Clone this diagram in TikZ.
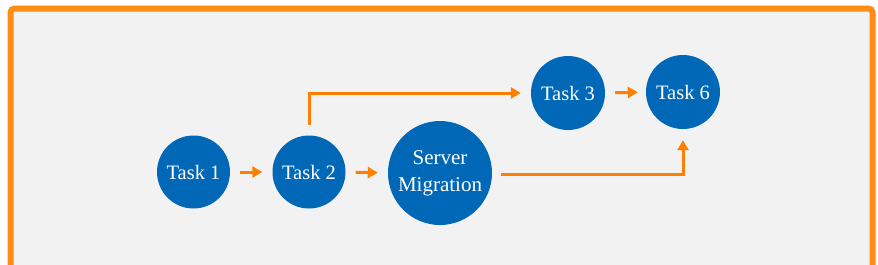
\documentclass[tikz,border=0pt]{standalone}
\usepackage{fontspec}
\setmainfont{Liberation Serif}
\usetikzlibrary{arrows.meta}
\definecolor{taskblue}{RGB}{0,104,183}
\definecolor{arrorange}{RGB}{255,128,0}
\definecolor{frameorange}{RGB}{255,140,20}
\definecolor{bggrey}{RGB}{242,242,242}
\tikzset{
  task/.style={circle, fill=taskblue, text=white, inner sep=0pt, align=center,
    font=\fontsize{20.5}{27}\selectfont},
  arr/.style={draw=arrorange, line width=3pt, -{Triangle[length=10pt,width=11pt]}},
}
\begin{document}
\begin{tikzpicture}[x=1pt,y=-1pt]
\useasboundingbox (0,0) rectangle (878,265);
\fill[white] (0,0) rectangle (878,265);
\fill[bggrey] (10.5,8.5) rectangle (872.5,265);
\draw[frameorange, line width=6pt, rounded corners=4pt] (10.5,266) -- (10.5,8.5) -- (872.5,8.5) -- (872.5,266);
\node[task, minimum size=73pt] (t1) at (193.5,172) {Task 1};
\node[task, minimum size=73pt] (t2) at (309,172) {Task 2};
\node[task, minimum size=104pt, font=\fontsize{21}{27}\selectfont] (sm) at (440,173) {Server\\Migration};
\node[task, minimum size=74pt] (t3) at (568,93) {Task 3};
\node[task, minimum size=74pt] (t6) at (683,92) {Task 6};
\draw[arr, shorten <=10pt, shorten >=10pt] (t1.east) -- (t2.west);
\draw[arr, shorten <=10pt, shorten >=10pt] (t2.east) -- (sm.west);
\draw[arr] ([yshift=10pt]t2.north) |- ([xshift=-10pt]t3.west);
\draw[arr, shorten <=10pt, shorten >=8pt] (t3.east) -- (t6.west);
\draw[arr] ([xshift=9pt,yshift=-1pt]sm.east) -| ([yshift=-11pt]t6.south);
\end{tikzpicture}
\end{document}
